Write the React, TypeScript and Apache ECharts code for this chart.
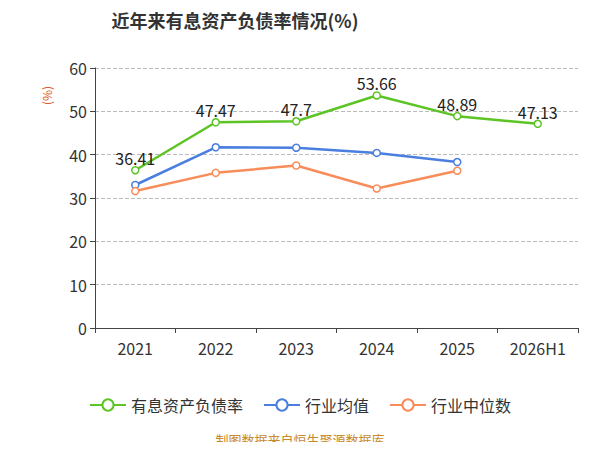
import React, { useEffect, useRef } from 'react';
import * as echarts from 'echarts';

const years = ['2021', '2022', '2023', '2024', '2025', '2026H1'];
const debtRatio = [36.41, 47.47, 47.7, 53.66, 48.89, 47.13];
const industryAvg = [33.0, 41.7, 41.6, 40.4, 38.3, null];
const industryMedian = [31.6, 35.8, 37.5, 32.2, 36.3, null];

const App: React.FC = () => {
  const chartRef = useRef<HTMLDivElement>(null);

  useEffect(() => {
    if (!chartRef.current) return;
    const chart = echarts.init(chartRef.current, null, { renderer: 'svg' });
    const font = 'Noto Sans CJK SC';
    const line = (name: string, data: any[], color: string, labels = false) => ({
      name,
      type: 'line',
      data,
      symbol: 'circle',
      symbolSize: 7,
      lineStyle: { width: 2.5, color },
      itemStyle: { color: '#fff', borderColor: color, borderWidth: 1.5 },
      label: labels
        ? { show: true, position: 'top', distance: 0, color: '#222', fontSize: 16, fontFamily: font }
        : { show: false },
    });
    chart.setOption({
      animation: false,
      textStyle: { fontFamily: font },
      title: {
        text: '近年来有息资产负债率情况(%)',
        left: 230,
        textAlign: 'center',
        top: 6,
        textStyle: { fontSize: 18, fontWeight: 'bold', color: '#333', fontFamily: font },
      },
      grid: { left: 95, right: 22, top: 68, bottom: 122 },
      legend: {
        top: 392,
        itemWidth: 36,
        itemHeight: 14,
        itemGap: 20,
        textStyle: { fontSize: 16, color: '#333', fontFamily: font },
        data: ['有息资产负债率', '行业均值', '行业中位数'],
      },
      xAxis: {
        type: 'category',
        data: years,
        axisLine: { lineStyle: { color: '#444' } },
        axisTick: { show: true, lineStyle: { color: '#444' } },
        axisLabel: { fontSize: 16, color: '#333', margin: 12 },
      },
      yAxis: {
        type: 'value',
        min: 0,
        max: 60,
        interval: 10,
        axisLine: { show: true, lineStyle: { color: '#444' } },
        axisTick: { show: true, lineStyle: { color: '#444' } },
        axisLabel: { fontSize: 16, color: '#333' },
        splitLine: { lineStyle: { type: 'dashed', color: '#bbb' } },
      },
      series: [
        line('有息资产负债率', debtRatio, '#5cc424', true),
        line('行业均值', industryAvg, '#4a7fe0'),
        line('行业中位数', industryMedian, '#f88c5a'),
      ],
      graphic: [
        {
          type: 'text',
          x: 40,
          y: 105,
          rotation: Math.PI / 2,
          style: { text: '(%)', fill: '#e05a2b', fontSize: 12, fontFamily: font },
        },
        {
          type: 'text',
          left: 'center',
          top: 433,
          style: { text: '制图数据来自恒生聚源数据库', fill: '#c8892a', fontSize: 13, fontFamily: font },
        },
      ],
    });
    return () => chart.dispose();
  }, []);

  return <div ref={chartRef} style={{ width: 600, height: 450, margin: -8 }} />;
};

export default App;
